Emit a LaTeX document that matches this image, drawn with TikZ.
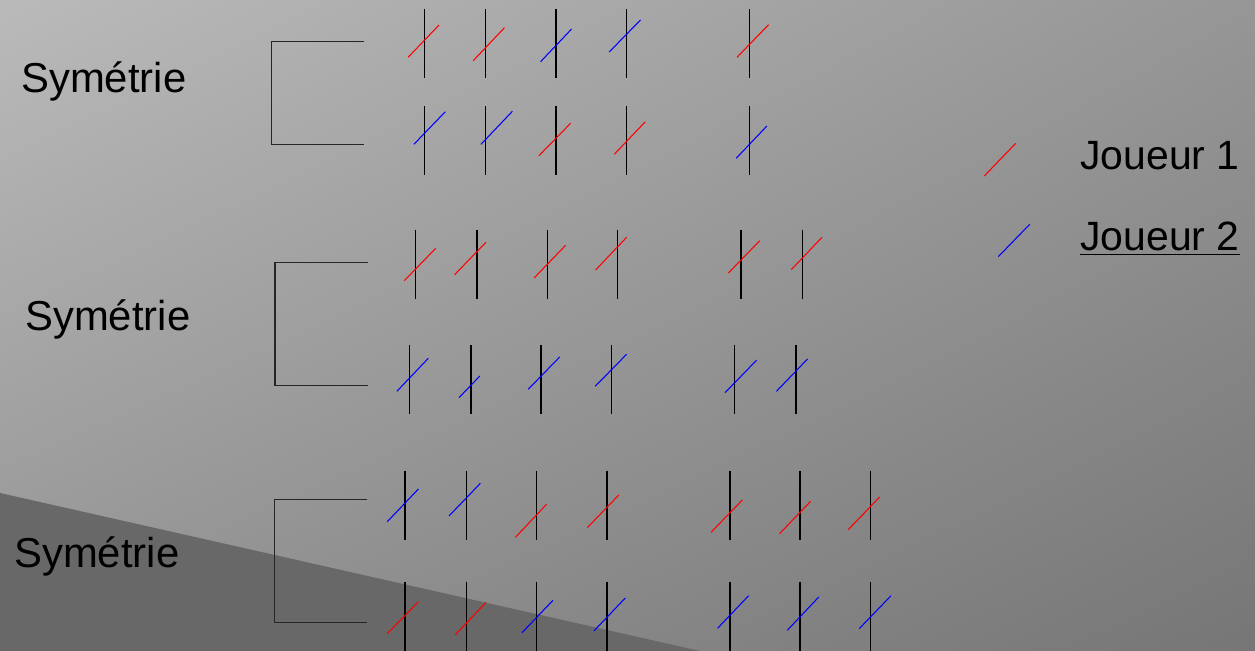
\documentclass[tikz,border=0pt]{standalone}
\usepackage{fontspec}
\setmainfont{Liberation Sans}
\usetikzlibrary{positioning, shadings}

\definecolor{bgUL}{RGB}{186,186,186}
\definecolor{bgUR}{RGB}{150,150,150}
\definecolor{bgLL}{RGB}{148,148,148}
\definecolor{bgLR}{RGB}{118,118,118}
\definecolor{shadow}{RGB}{104,104,104}

\begin{document}
\begin{tikzpicture}[
    x=0.02cm, y=-0.02cm,
    stick/.style={draw=black, line width=0.85pt},
    hit/.style={line width=0.6pt},
    bracket/.style={draw=black!85, line width=0.85pt},
    label/.style={inner sep=0pt, anchor=base west, font=\fontsize{23.3pt}{28pt}\selectfont},
    symlabel/.style={label, font=\fontsize{23.8pt}{28pt}\selectfont}
]
% background
\useasboundingbox (0,0) rectangle (1255,651);
\shade[upper left=bgUL, upper right=bgUR, lower left=bgLL, lower right=bgLR] (0,0) rectangle (1255,651);
\fill[shadow] (0,493) -- (700,651) -- (0,651) -- cycle;

% labels
\node [symlabel] (sym1) at (21,93) {Symétrie};
\node [symlabel] (sym2) at (25,331) {Symétrie};
\node [symlabel] (sym3) at (14,568) {Symétrie};
\node [label] (j1) at (1080,170) {Joueur 1};
\node [label] (j2) at (1080,251) {\underline{Joueur 2}};

% brackets
\draw [bracket] (364.3,41.7) -- (271.4,41.7) -- (271.4,144.3) -- (364.3,144.3);
\draw [bracket] (367.7,262.3) -- (274.8,262.3) -- (274.8,385.7) -- (367.7,385.7);
\draw [bracket] (367.3,499.3) -- (274.3,499.3) -- (274.3,622.7) -- (367.3,622.7);

% sticks
\foreach \x in {424.3,485.5,556.1,626.4,749.3} {
    \draw [stick] (\x,9) -- (\x,78);
    \draw [stick] (\x,106) -- (\x,175);
}
\foreach \x in {415.4,476.8,547.5,617.7,741,802.4}
    \draw [stick] (\x,229.7) -- (\x,299);
\foreach \x in {409.5,470.9,541.2,611.5,734.3,796.1}
    \draw [stick] (\x,345) -- (\x,414.3);
\foreach \x in {404.9,466.5,536.7,606.9,729.8,800,870.6} {
    \draw [stick] (\x,470.7) -- (\x,540);
    \draw [stick] (\x,581.7) -- (\x,651);
}

% crossings of each player
\foreach \xa/\ya/\xb/\yb/\c in {
    408.1/57.3/439.1/25/red, 473.2/60.7/504.5/27.7/red, 540.6/61.7/571.6/29/blue,
    609.2/52/640.5/20/blue, 737/57.3/768.6/24.7/red,
    413.9/144.3/445.3/111.7/blue, 481/144.3/512.4/111.3/blue, 538.9/155.7/570.6/123.3/red,
    614.3/154.3/645.3/121.7/red, 736.2/158.3/766.9/126/blue,
    404.3/280.7/435.7/248.3/red, 454.6/274.7/486/242.3/red, 534.1/278/565.6/245.3/red,
    595.6/270/626.6/237.3/red, 728.4/273/759.8/240.7/red, 791.3/269.7/822/237.3/red,
    396.9/391.3/428.3/358.3/blue, 459/397.7/479.8/376/blue, 528.2/389.3/559.7/357/blue,
    595.2/386.3/626.6/354.3/blue, 725/392.7/756.5/360.3/blue, 776.5/391.3/807.5/359/blue,
    387.3/521.7/418.4/489/blue, 449/516/480.4/483.3/blue, 515.5/537.3/546.5/504.3/red,
    587.3/527.7/618.8/495/red, 711/532.3/742.4/500/red, 779.6/533.7/810.6/501.3/red,
    848.2/529.7/879.6/497/red,
    387.3/633.7/418.4/601.7/red, 455.1/635/486.1/602.3/red, 522/632.7/553/600.3/blue,
    593.9/631/625.3/598/blue, 717.6/628.3/748.6/595.7/blue, 787.3/630.3/818.8/597/blue,
    859.2/628.7/891/595.7/blue,
    984.3/176/1015.7/143.3/red, 998.3/256.7/1029.7/224.3/blue}
    \draw [hit, draw=\c] (\xa,\ya) -- (\xb,\yb);
\end{tikzpicture}
\end{document}
